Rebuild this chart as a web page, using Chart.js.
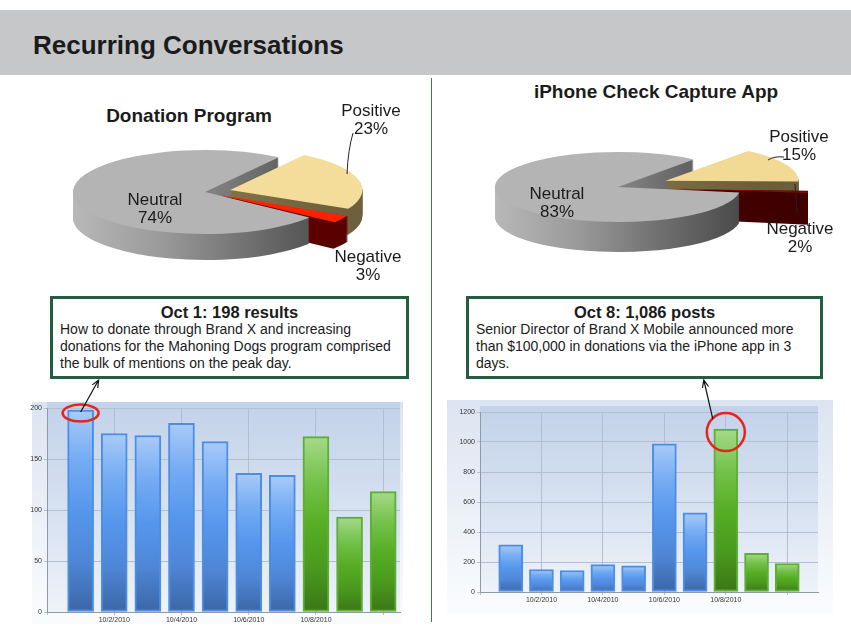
<!DOCTYPE html>
<html>
<head>
<meta charset="utf-8">
<script src="https://cdn.jsdelivr.net/npm/chart.js@4.4.1/dist/chart.umd.min.js"></script>
<style>
  body { margin: 0; width: 851px; height: 635px; position: relative; overflow: hidden; background: #fff;
         font-family: "Liberation Sans", Arial, sans-serif; color: #1b1b1b; }
  .abs { position: absolute; }
  #header { left: 0; top: 10px; width: 851px; height: 65px; background: #c6c7c9; }
  #header span { position: absolute; left: 33px; top: 20px; font-size: 26px; font-weight: bold; letter-spacing: 0; line-height: 30px; }
  #divider { left: 431px; top: 78px; width: 1px; height: 544px; background: #3f7b57; }
  .pieTitle { font-size: 19px; font-weight: bold; text-align: center; width: 300px; line-height: 22px; }
  .pieLabel { font-size: 17px; text-align: center; width: 100px; line-height: 18px; }
  .box { border: 3px solid #215f40; box-sizing: border-box; height: 83px; top: 296px; background: #fff; }
  .box h3 { margin: 0; padding-top: 5px; font-size: 16.5px; line-height: 17px; text-align: center; }
  .box p { margin: 0; padding-left: 7px; font-size: 14px; line-height: 17px; }
</style>
</head>
<body>
<div id="header" class="abs"><span>Recurring Conversations</span></div>
<div id="divider" class="abs"></div>

<div class="abs pieTitle" style="left:39px;top:105px">Donation Program</div>
<div class="abs pieTitle" style="left:506px;top:81px">iPhone Check Capture App</div>

<canvas id="pieLeft" class="abs" width="340" height="140" style="left:35px;top:137px"></canvas>
<canvas id="pieRight" class="abs" width="380" height="140" style="left:428px;top:132px"></canvas>

<div id="labels"></div>

<svg class="abs" style="left:0;top:0" width="851" height="635">
  <path d="M353 133 Q348 150 347 174" stroke="#222" fill="none" stroke-width="1"/>
  <path d="M768 160 Q774 156 784 157" stroke="#222" fill="none" stroke-width="1"/>
  <path d="M795 184 L797 213" stroke="#222" fill="none" stroke-width="1"/>
</svg>

<div class="abs box" style="left:50px;width:359px">
  <h3>Oct 1: 198 results</h3>
  <p>How to donate through Brand X and increasing<br>donations for the Mahoning Dogs program comprised<br>the bulk of mentions on the peak day.</p>
</div>
<div class="abs box" style="left:466px;width:357px">
  <h3>Oct 8: 1,086 posts</h3>
  <p>Senior Director of Brand X Mobile announced more<br>than $100,000 in donations via the iPhone app in 3<br>days.</p>
</div>

<canvas id="barLeft" class="abs" width="400" height="252" style="left:20px;top:378px"></canvas>
<canvas id="barRight" class="abs" width="400" height="240" style="left:440px;top:378px"></canvas>

<script>
// sentiment split (clockwise from the top-right cut)
const sentiments = ['Positive', 'Negative', 'Neutral'];
const donationShare = [23, 3, 74];
const iphoneShare = [15, 2, 83];

// daily volume, Oct 1 - Oct 10 2010
const days = [1, 2, 3, 4, 5, 6, 7, 8, 9, 10];
const donationCounts = [198, 175, 173, 185, 167, 136, 134, 172, 93, 118];
const iphoneCounts = [315, 150, 143, 183, 175, 988, 528, 1086, 258, 190];

// x tick labels (every other day)
const tickDays = [2, 4, 6, 8];
const tickText = ['10/2/2010', '10/4/2010', '10/6/2010', '10/8/2010'];

const greenFrom = 7; // last three days drawn green
const blueStops = ['#a9cbf8', '#74abf3', '#5596ec', '#4f86d6', '#3b66a6'];
const greenStops = ['#a6d98a', '#75c24c', '#56ae24', '#4a9a1e', '#3b7616'];

// pie labels placed next to the slices
const labelSpots = [
  [donationShare, [[321, 102], [318, 248], [105, 191]]],
  [iphoneShare, [[749, 128], [750, 220], [507, 185]]]
];
const labelBox = document.getElementById('labels');
labelSpots.forEach(([shares, spots]) => {
  spots.forEach((s, i) => {
    const d = document.createElement('div');
    d.className = 'abs pieLabel';
    d.style.left = s[0] + 'px';
    d.style.top = s[1] + 'px';
    d.innerHTML = sentiments[i] + '<br>' + shares[i] + '%';
    labelBox.appendChild(d);
  });
});

// fake 3D: squash the pie vertically and stack darker copies underneath
function pie3d(tilt, depth, sides) {
  return {
    id: 'pie3d',
    beforeDatasetsDraw(chart) {
      const ctx = chart.ctx;
      const arcs = chart.getDatasetMeta(0).data;
      const cx = arcs[0].x, cy = arcs[0].y;
      for (let d = depth; d > 0; d--) {
        ctx.save();
        ctx.translate(cx, cy + d);
        ctx.scale(1, tilt);
        ctx.translate(-cx, -cy);
        arcs.forEach((arc, i) => {
          const p = arc.getProps(['x', 'y', 'startAngle', 'endAngle', 'outerRadius', 'circumference']);
          const t = (arc.options.offset || 0) / 4;
          const mid = (p.startAngle + p.endAngle) / 2;
          const ox = p.x + Math.cos(mid) * t, oy = p.y + Math.sin(mid) * t;
          const r = p.outerRadius + t * (1 - Math.sin(Math.min(Math.PI, p.circumference)));
          ctx.beginPath();
          ctx.moveTo(ox, oy);
          ctx.arc(ox, oy, r, p.startAngle, p.endAngle);
          ctx.closePath();
          const g = ctx.createLinearGradient(cx - r, 0, cx + r, 0);
          sides[i].forEach((c, k, a) => g.addColorStop(k / (a.length - 1), c));
          ctx.fillStyle = g;
          ctx.fill();
        });
        ctx.restore();
      }
      ctx.save();
      ctx.translate(cx, cy);
      ctx.scale(1, tilt);
      ctx.translate(-cx, -cy);
    },
    afterDatasetsDraw(chart) {
      chart.ctx.restore();
    }
  };
}

function makePie(id, shares, tops, offsets, radius, rotation, plugin) {
  new Chart(id, {
    type: 'pie',
    data: {
      labels: sentiments,
      datasets: [{ data: shares, backgroundColor: tops, borderWidth: 0, offset: offsets, clip: false }]
    },
    options: {
      responsive: false,
      animation: false,
      radius: radius,
      cutout: '0%',
      rotation: rotation,
      layout: { padding: { bottom: 30 } },
      plugins: { legend: { display: false }, tooltip: { enabled: false } }
    },
    plugins: [plugin]
  });
}

makePie('pieLeft', donationShare, ['#f4dc9b', '#ff2200', '#b4b4b4'], [104, 64, 0], 132, 34,
  pie3d(0.318, 26, [['#9c8b5c', '#6e603c'], ['#7c0000', '#580000'], ['#b8b8b8', '#9a9a9a', '#707070', '#4a4a4a']]));
makePie('pieRight', iphoneShare, ['#f2da95', '#8e0800', '#b4b4b4'], [210, 210, 0], 123, 38,
  pie3d(0.285, 30, [['#9a8a5a', '#6c5e3a'], ['#5c0000', '#3e0000'], ['#b8b8b8', '#9a9a9a', '#707070', '#4a4a4a']]));

// bar helpers
function barFill(c) {
  const chart = c.chart;
  const stops = c.dataIndex >= greenFrom ? greenStops : blueStops;
  if (!chart.chartArea || !c.parsed) return stops[2];
  const y = chart.scales.y;
  const top = y.getPixelForValue(c.parsed.y), base = y.getPixelForValue(0);
  if (!isFinite(top) || !isFinite(base)) return stops[2];
  const g = chart.ctx.createLinearGradient(0, top, 0, base);
  stops.forEach((col, i) => g.addColorStop(i / (stops.length - 1), col));
  return g;
}
const barBorder = c => c.dataIndex >= greenFrom ? '#5eae36' : '#4c8ee4';

function panel(rect) {
  return {
    id: 'panel',
    beforeDraw(chart) {
      const { ctx, chartArea: a } = chart;
      let g = ctx.createLinearGradient(0, rect[1], 0, rect[3]);
      g.addColorStop(0, '#dbe4f1');
      g.addColorStop(1, '#fbfcfe');
      ctx.fillStyle = g;
      ctx.fillRect(rect[0], rect[1], rect[2] - rect[0], rect[3] - rect[1]);
      g = ctx.createLinearGradient(0, a.top, 0, a.bottom);
      g.addColorStop(0, '#c4d3ea');
      g.addColorStop(0.6, '#dae4f2');
      g.addColorStop(1, '#eef3f9');
      ctx.fillStyle = g;
      ctx.fillRect(a.left, a.top - 6, a.right - a.left, a.bottom - a.top + 6);
    }
  };
}

// red ring round the peak bar and arrow up to the note box
function callout(values, o) {
  return {
    id: 'callout',
    afterDatasetsDraw(chart) {
      const { ctx, scales: { x, y } } = chart;
      const i = values.indexOf(Math.max(...values));
      const px = x.getPixelForValue(days[i]), py = y.getPixelForValue(values[i]);
      ctx.save();
      ctx.strokeStyle = '#e8231a';
      ctx.lineWidth = 2.5;
      ctx.beginPath();
      ctx.ellipse(px, py + 3, o.rx, o.ry, 0, 0, Math.PI * 2);
      ctx.stroke();
      const sx = px + o.from[0], sy = py + o.from[1], ex = px + o.to, ey = 2;
      const ang = Math.atan2(ey - sy, ex - sx);
      ctx.strokeStyle = '#111';
      ctx.lineWidth = 1.2;
      ctx.beginPath();
      ctx.moveTo(sx, sy);
      ctx.lineTo(ex, ey);
      ctx.moveTo(ex - 8 * Math.cos(ang - 0.4), ey - 8 * Math.sin(ang - 0.4));
      ctx.lineTo(ex, ey);
      ctx.lineTo(ex - 8 * Math.cos(ang + 0.4), ey - 8 * Math.sin(ang + 0.4));
      ctx.stroke();
      ctx.restore();
    }
  };
}

function makeBars(id, values, yMax, yStep, xMax, thickness, pad, yWidth, xHeight, rect, note) {
  new Chart(id, {
    type: 'bar',
    data: {
      datasets: [{
        data: days.map((d, i) => ({ x: d, y: values[i] })),
        backgroundColor: barFill,
        borderColor: barBorder,
        borderWidth: 2,
        borderSkipped: false,
        barThickness: thickness
      }]
    },
    options: {
      responsive: false,
      animation: false,
      layout: { padding: pad },
      plugins: { legend: { display: false }, tooltip: { enabled: false } },
      scales: {
        x: {
          type: 'linear', min: 0, max: xMax, offset: false,
          grid: { color: '#b3bfd1', tickLength: 3, offset: false },
          border: { color: '#8f99a8' },
          ticks: {
            stepSize: 2, includeBounds: false, autoSkip: false, maxRotation: 0,
            font: { size: 7 }, color: '#333', padding: 1,
            callback: v => { const k = tickDays.indexOf(v); return k < 0 ? '' : tickText[k]; }
          },
          afterFit: s => { s.height = xHeight; }
        },
        y: {
          min: 0, max: yMax,
          grid: { color: '#b3bfd1', tickLength: 3 },
          border: { color: '#8f99a8' },
          ticks: { stepSize: yStep, font: { size: 7 }, color: '#333', padding: 2, callback: v => String(v) },
          afterFit: s => { s.width = yWidth; }
        }
      }
    },
    plugins: [panel(rect), callout(values, note)]
  });
}

makeBars('barLeft', donationCounts, 200, 50, 10.5, 26,
  { top: 30, right: 20, bottom: 4, left: 0 }, 27, 14, [12, 24, 383, 246],
  { rx: 18, ry: 8.5, from: [0, 2], to: 18 });
makeBars('barRight', iphoneCounts, 1200, 200, 11, 24,
  { top: 34, right: 22, bottom: 10, left: 0 }, 40, 16, [7, 22, 393, 236],
  { rx: 19, ry: 19, from: [-13, -10], to: -22 });
</script>
</body>
</html>
